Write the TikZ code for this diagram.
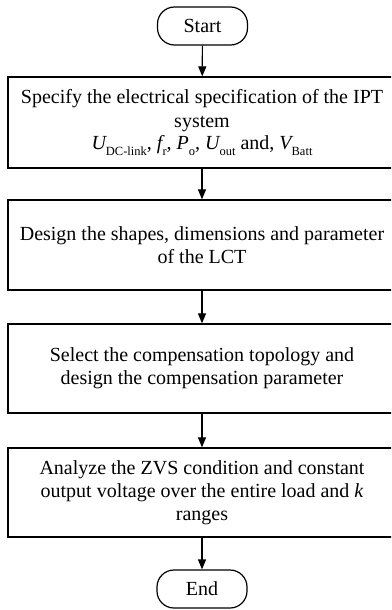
\documentclass[tikz,border=0pt]{standalone}
\usepackage{fontspec}
\setmainfont{Liberation Serif}
\usetikzlibrary{arrows.meta}
\newcommand{\sbs}[1]{\raisebox{-0.3em}{\fontsize{12.5}{12.5}\selectfont #1}}
\tikzset{
  procbox/.style={draw, line width=1.3pt, minimum width=388pt, align=center, inner sep=0pt,
    font=\fontsize{20}{23}\selectfont},
  termbox/.style={draw, line width=1.2pt, rounded corners=17pt, minimum width=90pt, minimum height=38pt,
    inner sep=0pt, font=\fontsize{20}{23}\selectfont},
  flow/.style={line width=1.2pt, -{Triangle[length=10pt,width=8pt]}}
}
\begin{document}
\begin{tikzpicture}[x=1pt,y=1pt]
\clip (0,0) rectangle (391,-610);
\fill[white] (0,0) rectangle (391,-610);
\node[termbox] (start) at (202.5,-26) {Start};
\node[procbox, minimum height=91pt] (b1) at (202,-122.5) {Specify the electrical specification of the IPT\\[1pt]system\\[-1pt]
{\itshape U}\sbs{DC-link}, {\itshape f}\sbs{r}, {\itshape P}\sbs{o}, {\itshape U}\sbs{out} and, {\itshape V}\sbs{Batt}};
\node[procbox, minimum height=90pt] (b2) at (202,-245) {Design the shapes, dimensions and parameter\\of the LCT};
\node[procbox, minimum height=89pt] (b3) at (202,-368.5) {Select the compensation topology and\\design the compensation parameter};
\node[procbox, minimum height=89pt] (b4) at (202,-492.5) {Analyze the ZVS condition and constant\\output voltage over the entire load and {\itshape k}\\ranges};
\node[termbox] (end) at (202,-589) {End};
\draw[flow] (start) -- (b1);
\draw[flow] (b1) -- (b2);
\draw[flow] (b2) -- (b3);
\draw[flow] (b3) -- (b4);
\draw[flow] (b4) -- (end);
\end{tikzpicture}
\end{document}
